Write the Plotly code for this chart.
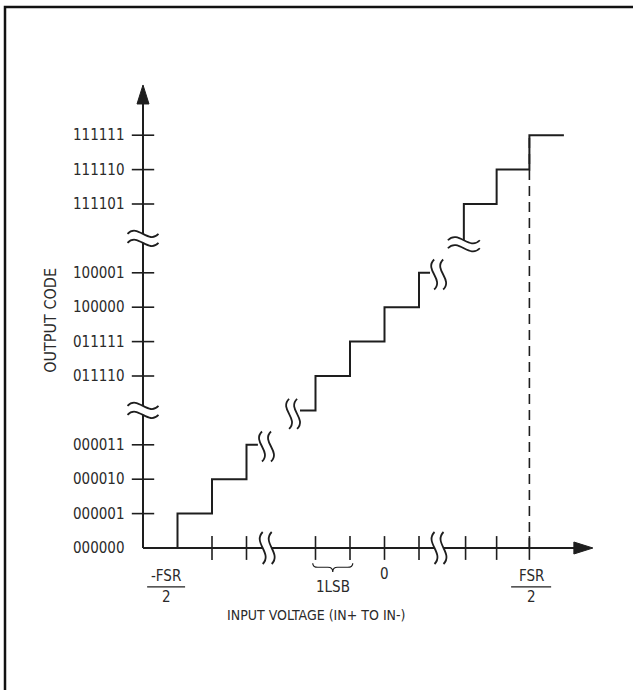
import plotly.graph_objects as go

# ---------------- data ----------------
code_labels = ["000000", "000001", "000010", "000011", "011110", "011111",
               "100000", "100001", "111101", "111110", "111111"]
code_slots = [0, 1, 2, 3, 5, 6, 7, 8, 10, 11, 12]
y_tick_slots = [1, 2, 3, 5, 6, 7, 8, 10, 11, 12]
y_break_slots = [4, 9]

x_tick_pos = [2, 3, 5, 6, 7, 8, 9.35, 10.25, 11.2]
x_break_pos = [3.6, 8.58]

# staircase pieces: (input position in LSB display units, output-code slot)
stair_a_x = [1, 2, 3, 3.33]
stair_a_y = [0, 1, 2, 3]
stair_b_x = [4.55, 5, 6, 7, 8, 8.32]
stair_b_y = [4, 4, 5, 6, 7, 8]
stair_c_x = [9.3, 10.25, 11.2, 12.2]
stair_c_y = [8.85, 10, 11, 12]

fsr_x = 11.2
neg_fsr_x = 0.67
zero_x = 7
lsb_span = [5, 6]
x_axis_end = 13.04
y_axis_end = 13.46

# ---------------- geometry helpers ----------------
W, H = 633, 690
PX_X, PX_Y = 34.5, 34.4        # pixels per unit
ORIG_PX = (143, 548)
x_range = [-ORIG_PX[0] / PX_X, (W - ORIG_PX[0]) / PX_X]
y_range = [-(H - ORIG_PX[1]) / PX_Y, ORIG_PX[1] / PX_Y]

INK = "#1e1e1e"
TXT = "#2a2a2a"
FONT = "DejaVu Sans Condensed, Liberation Sans Narrow, sans-serif"

shapes = []
annotations = []


def hwave(x0, x1, y, a):
    w = x1 - x0
    h = a / 0.289
    return f"C {x0 + w / 3},{y + h} {x0 + 2 * w / 3},{y - h} {x1},{y}"


def hwave_rev(x0, x1, y, a):
    w = x1 - x0
    h = a / 0.289
    return f"C {x0 + 2 * w / 3},{y - h} {x0 + w / 3},{y + h} {x0},{y}"


def vwave(x, y0, y1, a):
    d = y1 - y0
    h = a / 0.289
    return f"C {x - h},{y0 + d / 3} {x + h},{y0 + 2 * d / 3} {x},{y1}"


def vwave_rev(x, y0, y1, a):
    d = y1 - y0
    h = a / 0.289
    return f"C {x + h},{y0 + 2 * d / 3} {x - h},{y0 + d / 3} {x},{y0}"


def hbreak(xc, yc, halfw=15.5, gap=9, amp=3.2):
    x0, x1 = xc - halfw / PX_X, xc + halfw / PX_X
    yt, yb = yc + gap / 2 / PX_Y, yc - gap / 2 / PX_Y
    a = amp / PX_Y
    fill = f"M {x0},{yt} {hwave(x0, x1, yt, a)} L {x1},{yb} {hwave_rev(x0, x1, yb, a)} Z"
    shapes.append(dict(type="path", path=fill, fillcolor="white", line=dict(width=0)))
    for yy in (yt, yb):
        shapes.append(dict(type="path", path=f"M {x0},{yy} {hwave(x0, x1, yy, a)}",
                           line=dict(color=INK, width=1.8)))


def vbreak(xc, yc, halfh=16, gap=9, amp=3.0):
    y0, y1 = yc + halfh / PX_Y, yc - halfh / PX_Y
    xl, xr = xc - gap / 2 / PX_X, xc + gap / 2 / PX_X
    a = amp / PX_X
    fill = f"M {xl},{y0} {vwave(xl, y0, y1, a)} L {xr},{y1} {vwave_rev(xr, y0, y1, a)} Z"
    shapes.append(dict(type="path", path=fill, fillcolor="white", line=dict(width=0)))
    for xx in (xl, xr):
        shapes.append(dict(type="path", path=f"M {xx},{y0} {vwave(xx, y0, y1, a)}",
                           line=dict(color=INK, width=1.8)))


fig = go.Figure()

# axes lines
fig.add_trace(go.Scatter(x=[0, 0], y=[0, y_axis_end - 18 / PX_Y], mode="lines",
                         line=dict(color=INK, width=2), hoverinfo="skip"))
fig.add_trace(go.Scatter(x=[0, x_axis_end - 17 / PX_X], y=[0, 0], mode="lines",
                         line=dict(color=INK, width=2), hoverinfo="skip"))

# tick marks
fig.add_trace(go.Scatter(x=[0] * len(y_tick_slots), y=y_tick_slots, mode="markers",
                         marker=dict(symbol="line-ew", size=16, line=dict(color=INK, width=1.6)),
                         hoverinfo="skip"))
fig.add_trace(go.Scatter(x=x_tick_pos, y=[0] * len(x_tick_pos), mode="markers",
                         marker=dict(symbol="line-ns", size=17, line=dict(color=INK, width=1.6)),
                         hoverinfo="skip"))

# dashed FSR/2 line
fig.add_trace(go.Scatter(x=[fsr_x, fsr_x], y=[0, code_slots[-1]], mode="lines",
                         line=dict(color=INK, width=1.6, dash="10px,6px"), hoverinfo="skip"))

# staircase
for sx, sy in [(stair_a_x, stair_a_y), (stair_b_x, stair_b_y), (stair_c_x, stair_c_y)]:
    fig.add_trace(go.Scatter(x=sx, y=sy, mode="lines", line=dict(color=INK, width=2, shape="vh"),
                             hoverinfo="skip"))

# arrowheads
shapes.append(dict(type="path",
                   path=f"M 0,{y_axis_end} L {-6 / PX_X},{y_axis_end - 19 / PX_Y} "
                        f"L {6 / PX_X},{y_axis_end - 19 / PX_Y} Z",
                   fillcolor=INK, line=dict(color=INK, width=1)))
shapes.append(dict(type="path",
                   path=f"M {x_axis_end},0 L {x_axis_end - 19 / PX_X},{6 / PX_Y} "
                        f"L {x_axis_end - 19 / PX_X},{-6 / PX_Y} Z",
                   fillcolor=INK, line=dict(color=INK, width=1)))

# breaks on axes
for yb in y_break_slots:
    hbreak(0, yb)
for xb in x_break_pos:
    vbreak(xb, 0)

# breaks on staircase
vbreak(stair_a_x[-1] + 0.25, stair_a_y[-1] - 0.05, halfh=15, gap=9)
vbreak(stair_b_x[0] - 0.2, stair_b_y[0] - 0.1, halfh=15, gap=8)
vbreak(stair_b_x[-1] + 0.25, stair_b_y[-1] - 0.05, halfh=15, gap=9)
hbreak(stair_c_x[0], stair_c_y[0] - 0.02, halfw=16, gap=8)

# y tick labels
for lab, s in zip(code_labels, code_slots):
    annotations.append(dict(x=-0.45, y=s, text=lab, showarrow=False, xanchor="right",
                            yanchor="middle", font=dict(family=FONT, size=15, color=TXT)))

# axis titles
annotations.append(dict(x=-2.67, y=6.63, text="OUTPUT CODE", textangle=-90, showarrow=False,
                        font=dict(family=FONT, size=16, color=TXT)))
annotations.append(dict(x=5.04, y=-1.95, text="INPUT VOLTAGE (IN+ TO IN-)", showarrow=False,
                        font=dict(family=FONT, size=14, color=TXT)))

# x labels: fractions
for cx, top, half in [(neg_fsr_x, "-FSR", 0.55), (fsr_x + 0.05, "FSR", 0.58)]:
    annotations.append(dict(x=cx, y=-0.8, text=top, showarrow=False,
                            font=dict(family=FONT, size=15, color=TXT)))
    annotations.append(dict(x=cx, y=-1.43, text="2", showarrow=False,
                            font=dict(family=FONT, size=15, color=TXT)))
    shapes.append(dict(type="line", x0=cx - half, x1=cx + half, y0=-1.13, y1=-1.13,
                       line=dict(color=INK, width=1.3)))

annotations.append(dict(x=zero_x, y=-0.77, text="0", showarrow=False,
                        font=dict(family=FONT, size=15, color=TXT)))

# 1 LSB brace
xl, xr = lsb_span[0] - 0.08, lsb_span[1] + 0.08
xc = (xl + xr) / 2
yt, ym, yb = -0.44, -0.56, -0.70
brace = (f"M {xl},{yt} Q {xl},{ym} {xl + 0.15},{ym} L {xc - 0.14},{ym} "
         f"Q {xc},{ym} {xc},{yb} Q {xc},{ym} {xc + 0.14},{ym} L {xr - 0.15},{ym} "
         f"Q {xr},{ym} {xr},{yt}")
shapes.append(dict(type="path", path=brace, line=dict(color=INK, width=1.2)))
annotations.append(dict(x=xc, y=-1.13, text="1LSB", showarrow=False,
                        font=dict(family=FONT, size=15, color=TXT)))

# frame
shapes.append(dict(type="rect", xref="paper", yref="paper", x0=5 / W, x1=1.2,
                   y0=-0.2, y1=1 - 7 / H, line=dict(color="#111111", width=2.5)))

fig.update_layout(
    width=W, height=H, margin=dict(l=0, r=0, t=0, b=0),
    paper_bgcolor="white", plot_bgcolor="white", showlegend=False,
    xaxis=dict(range=x_range, visible=False, fixedrange=True),
    yaxis=dict(range=y_range, visible=False, fixedrange=True),
    shapes=shapes, annotations=annotations,
)

fig.write_html("out.html",
               config={"displayModeBar": False, "staticPlot": True},
               post_script="document.body.style.margin='0px';"
                           "document.body.style.overflow='hidden';")
